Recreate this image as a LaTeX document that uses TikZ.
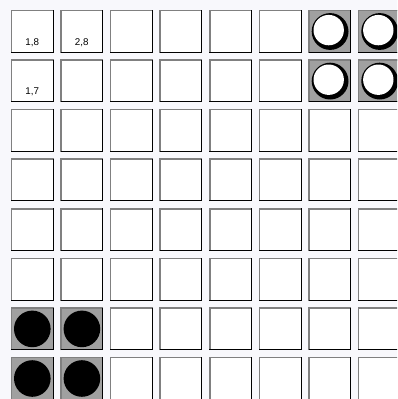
\documentclass[tikz,border=0pt]{standalone}
\usepackage{fontspec}
\setmainfont{Liberation Sans}
\definecolor{bg}{HTML}{F8F8FC}
\definecolor{cellgray}{HTML}{A0A0A0}
\definecolor{edgegray}{HTML}{808080}
\tikzset{
  cellbox/.style={fill=white},
  graybox/.style={fill=cellgray},
  lbl/.style={font=\fontsize{9.8}{10}\selectfont, inner sep=0pt, anchor=center},
}
\newcommand{\cellat}[3]{% col row style
  \pgfmathsetmacro{\cx}{10.5+49.6*#1}
  \pgfmathsetmacro{\cy}{9.5+49.6*#2}
  \fill[#3] (\cx,\cy) rectangle ++(43,43);
  \draw[edgegray, line width=1.6pt] (\cx+0.8,\cy+43) -- (\cx+0.8,\cy+0.8) -- (\cx+43,\cy+0.8);
  \draw[black, line width=1pt] (\cx+0.5,\cy+42.5) -- (\cx+42.5,\cy+42.5) -- (\cx+42.5,\cy+0.5);
}
\begin{document}
\begin{tikzpicture}[x=1pt,y=-1pt]
\fill[bg] (0,0) rectangle (397,399);
\useasboundingbox (0,0) rectangle (397,399);
\begin{scope}
\clip (0,0) rectangle (397,399);
\foreach \c in {0,...,7}{
  \foreach \r in {0,...,7}{
    \cellat{\c}{\r}{cellbox}
  }
}
% gray cells
\foreach \c/\r in {6/0,7/0,6/1,7/1,0/6,1/6,0/7,1/7}{
  \cellat{\c}{\r}{graybox}
}
% white discs
\foreach \c/\r in {6/0,7/0,6/1,7/1}{
  \pgfmathsetmacro{\ox}{10.5+49.6*\c+22}
  \pgfmathsetmacro{\oy}{9.5+49.6*\r+22}
  \fill[black] (\ox,\oy) circle (18.4);
  \fill[white] (\ox-1.4,\oy-1.4) circle (15.2);
}
% black discs
\foreach \c/\r in {0/6,1/6,0/7,1/7}{
  \pgfmathsetmacro{\ox}{10.5+49.6*\c+21.8}
  \pgfmathsetmacro{\oy}{9.5+49.6*\r+21.8}
  \fill[black] (\ox,\oy) circle (18.3);
}
\end{scope}
\node[lbl] (l18) at (32.2,42.3) {1,8};
\node[lbl] (l28) at (81.8,42.3) {2,8};
\node[lbl] (l17) at (32.2,91.5) {1,7};
\end{tikzpicture}
\end{document}
